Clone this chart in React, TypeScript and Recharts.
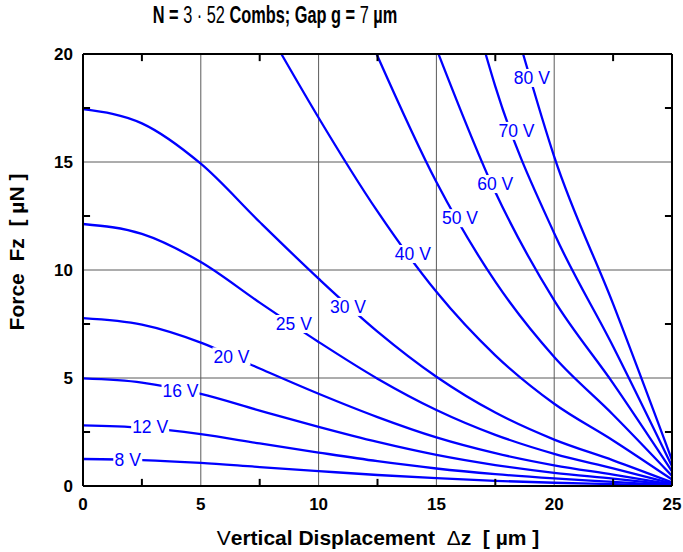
import { LineChart, Line, XAxis, YAxis, CartesianGrid, ReferenceDot } from "recharts"

const majorZ = [0, 5, 10, 15, 20, 25]
const majorF = [0, 5, 10, 15, 20]
const minorZ = [2.5, 7.5, 12.5, 17.5, 22.5]
const minorF = [2.5, 7.5, 12.5, 17.5]

// displacement samples for the low-voltage curves (whole range visible)
const zFull = [0, 2.5, 5, 7.5, 10, 12.5, 15, 17.5, 20, 22.5, 25]
const f8V = [1.25, 1.2, 1.07, 0.875, 0.69, 0.51, 0.36, 0.24, 0.15, 0.085, 0.012]
const f12V = [2.81, 2.7, 2.4, 1.97, 1.55, 1.15, 0.81, 0.55, 0.35, 0.19, 0.03]
const f16V = [4.98, 4.79, 4.26, 3.49, 2.74, 2.04, 1.44, 0.97, 0.61, 0.34, 0.05]
const f20V = [7.77, 7.47, 6.64, 5.44, 4.27, 3.19, 2.25, 1.52, 0.96, 0.53, 0.08]
const f25V = [12.13, 11.67, 10.37, 8.49, 6.67, 4.97, 3.52, 2.37, 1.49, 0.82, 0.12]
const f30V = [17.45, 16.79, 14.92, 12.22, 9.6, 7.15, 5.06, 3.4, 2.15, 1.19, 0.17]

// high-voltage curves start where they enter the top of the plot
const z40V = [8.42, 10, 12.5, 15, 17.5, 20, 22.5, 25]
const f40V = [20, 17.05, 12.71, 8.99, 6.05, 3.81, 2.11, 0.3]
const z50V = [12.46, 15, 17.5, 20, 22.5, 25]
const f50V = [20, 14.07, 9.46, 5.97, 3.3, 0.47]
const z60V = [15.09, 17.5, 20, 22.5, 25]
const f60V = [20, 13.61, 8.59, 4.75, 0.68]
const z70V = [17.09, 17.5, 20, 22.5, 25]
const f70V = [20, 18.5, 11.7, 6.46, 0.92]
const z80V = [18.68, 20, 22.5, 25]
const f80V = [20, 15.25, 8.43, 1.2]

const labelText = ["8 V", "12 V", "16 V", "20 V", "25 V", "30 V", "40 V", "50 V", "60 V", "70 V", "80 V"]
const labelZ = [1.9, 2.85, 4.14, 6.3, 8.95, 11.25, 14.0, 16.0, 17.5, 18.4, 19.05]
const labelF = [1.2, 2.73, 4.4, 6.0, 7.5, 8.29, 10.74, 12.4, 13.98, 16.44, 18.89]

const curves = [
    { name: "8V", z: zFull, f: f8V },
    { name: "12V", z: zFull, f: f12V },
    { name: "16V", z: zFull, f: f16V },
    { name: "20V", z: zFull, f: f20V },
    { name: "25V", z: zFull, f: f25V },
    { name: "30V", z: zFull, f: f30V },
    { name: "40V", z: z40V, f: f40V },
    { name: "50V", z: z50V, f: f50V },
    { name: "60V", z: z60V, f: f60V },
    { name: "70V", z: z70V, f: f70V },
    { name: "80V", z: z80V, f: f80V },
].map((c) => ({ name: c.name, data: c.z.map((z, i) => ({ z, F: c.f[i] })) }))

// inward tick length, in axis units (about 7 px)
const TICK_Z = 0.3
const TICK_F = 0.33

// frame (top + right) and inward minor ticks on all four sides
const frameSegs = [
    [{ z: 0, F: 20 }, { z: 25, F: 20 }],
    [{ z: 25, F: 0 }, { z: 25, F: 20 }],
    ...minorZ.map((z) => [{ z, F: 0 }, { z, F: TICK_F }]),
    ...minorZ.map((z) => [{ z, F: 20 }, { z, F: 20 - TICK_F }]),
    ...minorF.map((F) => [{ z: 0, F }, { z: TICK_Z, F }]),
    ...minorF.map((F) => [{ z: 25, F }, { z: 25 - TICK_Z, F }]),
]

const FONT = "Arial, 'Liberation Sans', sans-serif"
const BLUE = "#0000ff"

function CurveLabel(props: any) {
    const { cx, cy, text } = props
    const w = text.length * 9 + 2
    return (
        <g>
            <rect x={cx - w / 2} y={cy - 9} width={w} height={18} fill="#fff" />
            <text x={cx} y={cy} dy="0.36em" textAnchor="middle" fontSize={17.5} fontFamily={FONT} fill={BLUE}>
                {text}
            </text>
        </g>
    )
}

export default function App() {
    const tickStyle = { fontSize: 17, fontWeight: 700, fill: "#000", fontFamily: FONT }
    const axisStroke = { stroke: "#000", strokeWidth: 2 }
    return (
        <div style={{ position: "absolute", left: 0, top: 0, width: 683, height: 552, background: "#fff" }}>
            <div style={{ position: "absolute", left: 0, top: 2, width: 550, textAlign: "center", fontFamily: FONT, fontSize: 23, fontWeight: 700, transform: "scaleX(0.71)", transformOrigin: "275px 0", whiteSpace: "nowrap" }}>
                N = <span style={{ fontWeight: 400 }}>3 · 52</span> Combs; Gap g = <span style={{ fontWeight: 400 }}>7</span> µm
            </div>
            <LineChart width={683} height={552} margin={{ top: 54, right: 11, left: 43, bottom: 36 }}>
                <CartesianGrid stroke="#5a5a5a" strokeWidth={1} />
                <XAxis type="number" dataKey="z" domain={[0, 25]} ticks={majorZ}
                    tick={tickStyle} tickLine={false} tickSize={8} tickMargin={4} height={30}
                    axisLine={axisStroke} />
                <YAxis type="number" domain={[0, 20]} ticks={majorF}
                    tick={tickStyle} tickLine={false} tickSize={8} tickMargin={2} width={40}
                    axisLine={axisStroke} />
                {curves.map((c) => (
                    <Line key={c.name} data={c.data} dataKey="F" type="monotone" stroke={BLUE} strokeWidth={2.3}
                        dot={false} activeDot={false} isAnimationActive={false} />
                ))}
                {frameSegs.map((seg, i) => (
                    <Line key={"frame" + i} data={seg} dataKey="F" type="linear" stroke="#000" strokeWidth={2}
                        dot={false} activeDot={false} isAnimationActive={false} />
                ))}
                {labelText.map((t, i) => (
                    <ReferenceDot key={t} x={labelZ[i]} y={labelF[i]} r={0}
                        shape={(p: any) => <CurveLabel {...p} text={t} />} />
                ))}
            </LineChart>
            <div style={{ position: "absolute", left: 378, top: 526, fontFamily: FONT, fontSize: 21, fontWeight: 700, whiteSpace: "nowrap", transform: "translateX(-50%)" }}>
                <span style={{ fontWeight: 400 }}>V</span>ertical Displacement&nbsp;&nbsp;<span style={{ fontWeight: 400 }}>Δ</span>z&nbsp;&nbsp;[ µm ]
            </div>
            <div style={{ position: "absolute", left: 17, top: 252, fontFamily: FONT, fontSize: 21, fontWeight: 700, whiteSpace: "nowrap", transform: "translate(-50%, -50%) rotate(-90deg)" }}>
                Force&nbsp;&nbsp;Fz&nbsp;&nbsp;[ µN ]
            </div>
        </div>
    )
}
